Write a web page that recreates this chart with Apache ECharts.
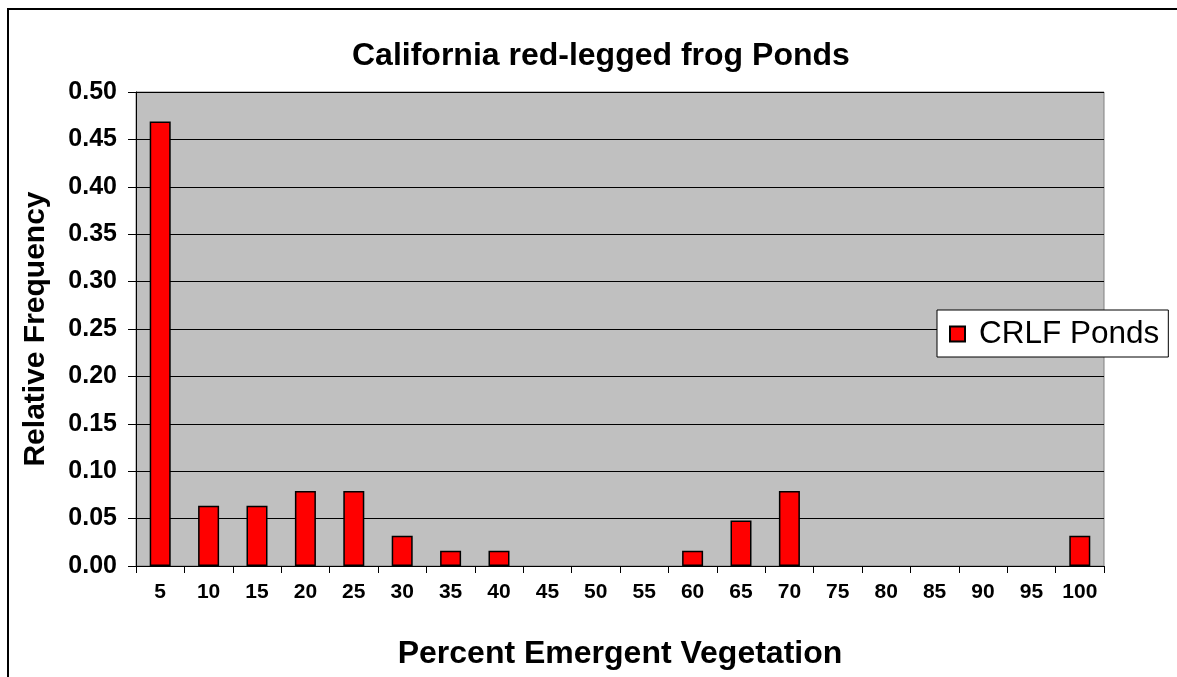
<!DOCTYPE html>
<html>
<head>
<meta charset="utf-8">
<script src="https://cdn.jsdelivr.net/npm/echarts@6/dist/echarts.min.js"></script>
<style>
html,body{margin:0;padding:0;background:#fff;}
#chart{width:1177px;height:677px;}
</style>
</head>
<body>
<div id="chart"></div>
<script>
const categories = ['5','10','15','20','25','30','35','40','45','50','55','60','65','70','75','80','85','90','95','100'];
const crlfPonds = [0.469,0.0635,0.0635,0.079,0.079,0.032,0.016,0.016,0,0,0,0.016,0.048,0.079,0,0,0,0,0,0.032];
const yTicks = {min:0, max:0.5, interval:0.05};

const chart = echarts.init(document.getElementById('chart'), null, {renderer:'canvas'});
const FONT = '"Liberation Sans", Arial, sans-serif';
chart.setOption({
  backgroundColor:'#ffffff',
  animation:false,
  title:{
    text:'California red-legged frog Ponds',
    left:347, top:35,
    textStyle:{fontFamily:FONT, fontWeight:'bold', fontSize:32, color:'#000'}
  },
  graphic:[{
    type:'rect', z:-10,
    shape:{x:8, y:9, width:1300, height:1000},
    style:{fill:null, stroke:'#000', lineWidth:2}
  }],
  legend:{
    left:937, top:310,
    padding:[8,9,7,12],
    backgroundColor:'#ffffff',
    borderColor:'#000', borderWidth:1,
    itemWidth:15, itemHeight:15,
    icon:'rect',
    textStyle:{fontFamily:FONT, fontSize:31.5, color:'#000', padding:[0,0,0,9]},
    data:['CRLF Ponds']
  },
  grid:{
    left:136, right:73, top:92, bottom:111,
    show:true, backgroundColor:'#C0C0C0', borderColor:'#808080', borderWidth:1
  },
  xAxis:{
    type:'category', data:categories, boundaryGap:true,
    name:'Percent Emergent Vegetation', nameLocation:'middle', nameGap:72,
    nameTextStyle:{fontFamily:FONT, fontWeight:'bold', fontSize:32, color:'#000'},
    axisLine:{show:true, lineStyle:{color:'#000', width:1}},
    axisTick:{show:true, length:7, lineStyle:{color:'#000'}},
    axisLabel:{fontFamily:FONT, fontWeight:'bold', fontSize:21, color:'#000', margin:16, interval:0},
    splitLine:{show:false}
  },
  yAxis:{
    type:'value', min:yTicks.min, max:yTicks.max, interval:yTicks.interval,
    name:'Relative Frequency', nameLocation:'middle', nameGap:85,
    nameTextStyle:{fontFamily:FONT, fontWeight:'bold', fontSize:30, color:'#000'},
    axisLine:{show:true, lineStyle:{color:'#000', width:1}},
    axisTick:{show:true, length:8, lineStyle:{color:'#000'}},
    axisLabel:{fontFamily:FONT, fontWeight:'bold', fontSize:25, color:'#000', margin:19,
      formatter:v=>v.toFixed(2)},
    splitLine:{show:true, lineStyle:{color:'#000', width:1}}
  },
  series:[{
    name:'CRLF Ponds', type:'bar', barWidth:21,
    data:crlfPonds.map(v => v === 0 ? {value:v, itemStyle:{borderWidth:0}} : v),
    itemStyle:{color:'#FF0000', borderColor:'#000', borderWidth:1.5}
  }]
});
</script>
</body>
</html>
